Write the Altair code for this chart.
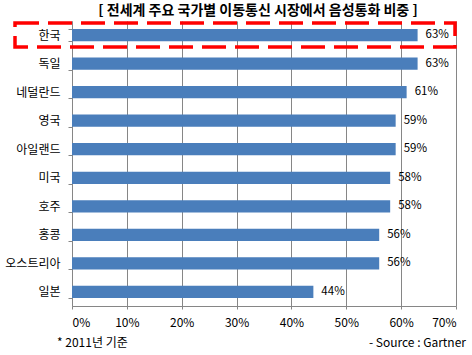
import altair as alt
import pandas as pd

countries = ["한국", "독일", "네덜란드", "영국", "아일랜드", "미국", "호주", "홍콩", "오스트리아", "일본"]
shares = [63, 63, 61, 59, 59, 58, 58, 56, 56, 44]
tick_values = [0, 10, 20, 30, 40, 50, 60, 70]
title_text = "[ 전세계 주요 국가별 이동통신 시장에서 음성통화 비중 ]"
note_left = "* 2011년 기준"
note_right = "- Source : Gartner"

df = pd.DataFrame({"country": countries, "share": shares})
df["label"] = [f"{v}%" for v in shares]

FONT = "Noto Sans CJK KR"
GRID = "#868686"

y_enc = alt.Y("country:N", sort=countries, title=None,
              scale=alt.Scale(paddingInner=0.57, paddingOuter=0.28),
              axis=alt.Axis(tickBand="extent", grid=False, domainColor=GRID, tickColor=GRID,
                            tickSize=4, labelPadding=8, labelFont=FONT, labelFontSize=12,
                            labelColor="#000000"))
x_enc = alt.X("share:Q", title=None,
              scale=alt.Scale(domain=[0, 70], nice=False),
              axis=alt.Axis(values=tick_values, labelExpr="datum.value + '%'", grid=True,
                            gridColor=GRID, domainColor=GRID, tickColor=GRID, tickSize=3,
                            labelPadding=8, labelFont=FONT, labelFontSize=12,
                            labelColor="#000000"))

base = alt.Chart(df)
bars = base.mark_bar(color="#4A7EBB").encode(x=x_enc, y=y_enc)
labels = base.mark_text(align="left", baseline="middle", dx=8, font=FONT, fontSize=11.5,
                        color="#000000").encode(x="share:Q", y=alt.Y("country:N", sort=countries),
                                                 text="label:N")

box = alt.Chart(pd.DataFrame({"k": [0]})).mark_rect(
    fill=None, stroke="#FF0000", strokeWidth=3.5, strokeDash=[24, 9]
).encode(x=alt.value(-57), x2=alt.value(383), y=alt.value(2), y2=alt.value(26))

title = alt.Chart(pd.DataFrame({"t": [title_text]})).mark_text(
    font=FONT, fontSize=14, fontWeight="bold", align="center", baseline="middle", color="#000000"
).encode(x=alt.value(186), y=alt.value(-10), text="t:N")

nl = alt.Chart(pd.DataFrame({"t": [note_left]})).mark_text(
    font=FONT, fontSize=12, align="left", baseline="middle", color="#000000"
).encode(x=alt.value(-15), y=alt.value(322), text="t:N")

nr = alt.Chart(pd.DataFrame({"t": [note_right]})).mark_text(
    font=FONT, fontSize=12, align="right", baseline="middle", color="#000000"
).encode(x=alt.value(394), y=alt.value(322), text="t:N")

chart = alt.layer(bars, labels, box, title, nl, nr).properties(
    width=384, height=285,
    autosize=alt.AutoSizeParams(type="none"),
    padding={"left": 72, "top": 21, "right": 16, "bottom": 49},
    background="white",
).configure_view(strokeWidth=0)

chart.save("out.html", embed_options={"renderer": "svg", "actions": False})
